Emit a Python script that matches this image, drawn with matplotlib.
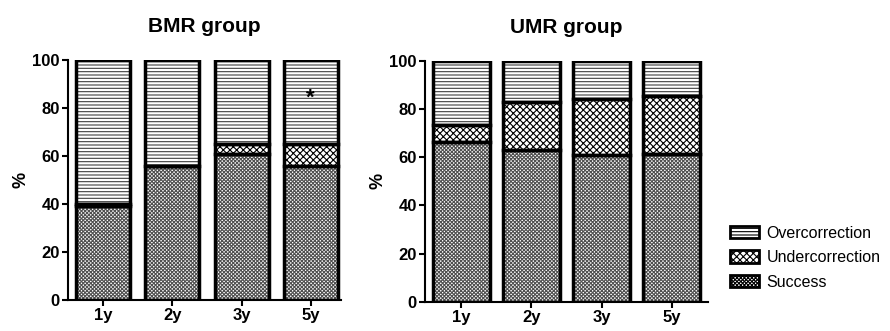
import matplotlib
matplotlib.use("Agg")
import matplotlib.pyplot as plt
from matplotlib.patches import Patch
import numpy as np

plt.rcParams['font.family'] = ['Liberation Sans', 'DejaVu Sans']
plt.rcParams['hatch.linewidth'] = 0.8

years = ['1y', '2y', '3y', '5y']
# BMR group (%)
bmr_success = [39, 56, 61, 56]
bmr_under = [1, 0, 4, 9]
bmr_over = [60, 44, 35, 35]
# UMR group (%)
umr_success = [66.5, 63, 61, 61.5]
umr_under = [7, 20, 23, 24]
umr_over = [26.5, 17, 16, 14.5]

labels = ['Overcorrection', 'Undercorrection', 'Success']
hatches = {'Success': 'xxxxxxxxx', 'Undercorrection': 'xxxxx', 'Overcorrection': '-----'}
hatch_cols = {'Success': '#505050', 'Undercorrection': 'black', 'Overcorrection': '#404040'}

fig = plt.figure(figsize=(8.9, 3.31), dpi=100)
ax1 = fig.add_axes([0.0764, 0.094, 0.307, 0.725])
ax2 = fig.add_axes([0.4775, 0.088, 0.318, 0.728])


def draw(ax, succ, under, over, width, xlim, title):
    x = np.arange(len(years))
    succ = np.array(succ)
    under = np.array(under)
    over = np.array(over)
    segs = [('Success', succ, 0), ('Undercorrection', under, succ),
            ('Overcorrection', over, succ + under)]
    for name, h, b in segs:
        # hatch fill first, then a black outline on top
        ax.bar(x, h, width, bottom=b, color='white', edgecolor=hatch_cols[name],
               linewidth=0, hatch=hatches[name], zorder=2)
        ax.bar(x, h, width, bottom=b, fill=False, edgecolor='black',
               linewidth=2.5, zorder=3)
    ax.set_ylim(0, 100)
    ax.set_xlim(*xlim)
    ax.set_xticks(x)
    ax.set_xticklabels(years, fontsize=12, fontweight='bold')
    ax.set_yticks([0, 20, 40, 60, 80, 100])
    ax.set_yticklabels(['0', '20', '40', '60', '80', '100'], fontsize=12,
                       fontweight='bold')
    ax.spines['top'].set_visible(False)
    ax.spines['right'].set_visible(False)
    ax.spines['left'].set_linewidth(1.5)
    ax.spines['bottom'].set_linewidth(1.5)
    ax.tick_params(width=1.5, length=4, pad=2)
    ax.set_ylabel('%', fontsize=13, fontweight='bold', labelpad=2)
    ax.set_title(title, fontsize=15, fontweight='bold', pad=20)


draw(ax1, bmr_success, bmr_under, bmr_over, 0.78, (-0.51, 3.44), 'BMR group')
draw(ax2, umr_success, umr_under, umr_over, 0.81, (-0.52, 3.52), 'UMR group')

ax1.text(3, 84, '*', ha='center', va='center', fontsize=16, fontweight='bold')

handles = [Patch(facecolor='white', edgecolor='black', linewidth=2,
                 hatch=hatches[l], label=l) for l in labels]
fig.legend(handles=handles, loc='upper left', bbox_to_anchor=(0.804, 0.362),
           frameon=False, fontsize=11.5, handlelength=1.8, handleheight=0.8,
           labelspacing=0.6, handletextpad=0.5)

fig.savefig('out.png', dpi=100)
